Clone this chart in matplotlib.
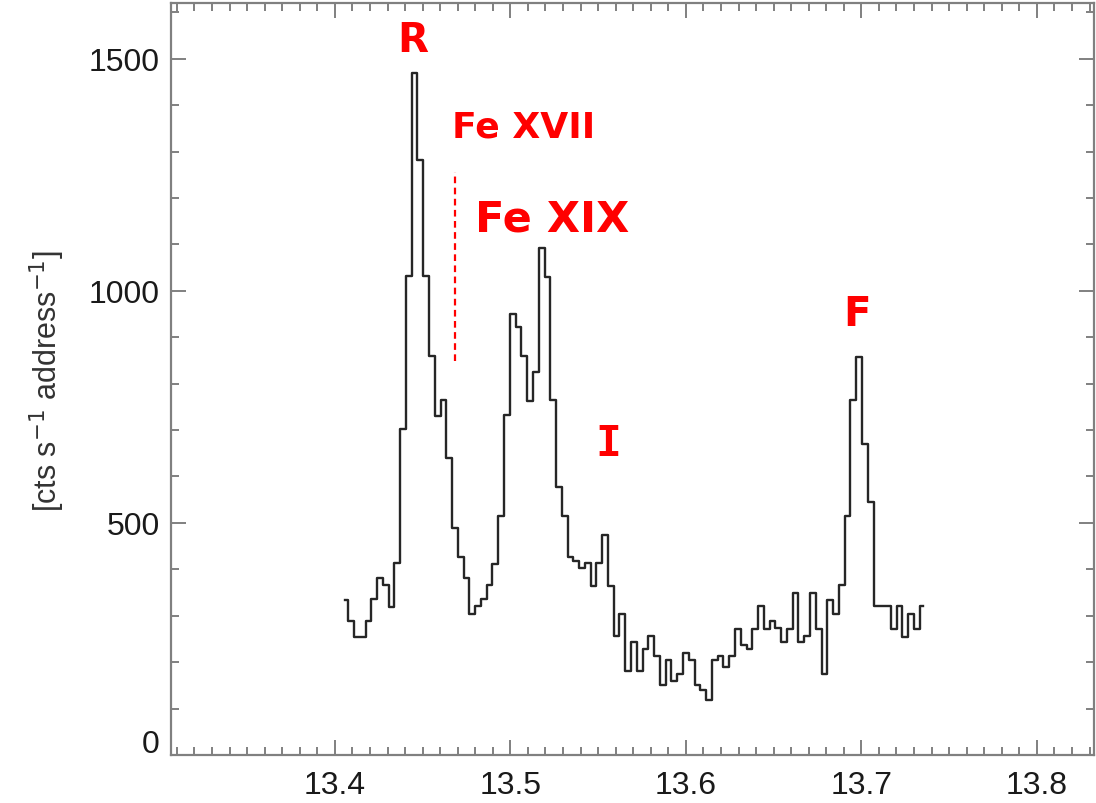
#!/usr/bin/env python3
"""Ne IX triplet region: step spectrum with R / I / F and Fe line labels."""
import matplotlib
matplotlib.use("Agg")
import matplotlib.pyplot as plt
from matplotlib.ticker import MultipleLocator, FormatStrFormatter, FuncFormatter

# bin centres [Angstrom]
wavelength = [
    13.4059, 13.4092, 13.4125, 13.4158, 13.4191, 13.4224, 13.4256, 13.4289, 13.4322, 13.4355,
    13.4388, 13.4421, 13.4454, 13.4487, 13.4520, 13.4553, 13.4586, 13.4618, 13.4651, 13.4684,
    13.4717, 13.4750, 13.4783, 13.4816, 13.4849, 13.4882, 13.4914, 13.4947, 13.4980, 13.5013,
    13.5046, 13.5079, 13.5112, 13.5145, 13.5178, 13.5211, 13.5243, 13.5276, 13.5309, 13.5342,
    13.5375, 13.5408, 13.5441, 13.5474, 13.5507, 13.5540, 13.5572, 13.5605, 13.5638, 13.5671,
    13.5704, 13.5737, 13.5770, 13.5803, 13.5836, 13.5869, 13.5901, 13.5934, 13.5967, 13.6000,
    13.6033, 13.6066, 13.6099, 13.6132, 13.6165, 13.6198, 13.6230, 13.6263, 13.6296, 13.6329,
    13.6362, 13.6395, 13.6428, 13.6461, 13.6494, 13.6527, 13.6559, 13.6592, 13.6625, 13.6658,
    13.6691, 13.6724, 13.6757, 13.6790, 13.6823, 13.6856, 13.6888, 13.6921, 13.6954, 13.6987,
    13.7020, 13.7053, 13.7086, 13.7119, 13.7152, 13.7185, 13.7217, 13.7250, 13.7283, 13.7316,
    13.7349,
]
# count rate per bin [cts s^-1 address^-1]
rate = [
    334, 288, 255, 255, 288, 335, 382, 367, 318, 413,
    702, 1031, 1469, 1281, 1031, 860, 731, 765, 639, 490,
    427, 382, 303, 320, 335, 366, 412, 515, 732, 950,
    921, 860, 763, 826, 1092, 1029, 764, 578, 515, 427,
    418, 403, 414, 364, 414, 475, 364, 256, 303, 181,
    244, 182, 228, 256, 213, 150, 204, 159, 175, 220,
    204, 150, 141, 118, 204, 213, 189, 213, 272, 238,
    228, 272, 320, 271, 289, 274, 243, 272, 350, 243,
    256, 350, 272, 174, 334, 303, 366, 514, 765, 858,
    670, 545, 320, 320, 320, 271, 320, 255, 304, 272,
    320,
]

# line labels
labels = ["R", "Fe XVII", "Fe XIX", "I", "F"]
label_x = [13.4444, 13.5077, 13.5236, 13.5556, 13.6974]
label_y = [1540, 1355, 1155, 672, 950]
label_size = [29, 26, 31, 31, 29]
# the "I" gets its bars from the mono face
label_font = ["DejaVu Sans", "DejaVu Sans", "DejaVu Sans", "DejaVu Sans Mono", "DejaVu Sans"]

# Fe XVII marker
fe17_x = 13.4684
fe17_y = (848, 1256)

AXIS_GREY = "#808080"
TICK_SIZE = 23


def style_axes(ax):
    ax.set_xlim(13.3066, 13.8325)
    ax.set_ylim(0, 1620)
    ax.xaxis.set_major_locator(MultipleLocator(0.1))
    ax.xaxis.set_minor_locator(MultipleLocator(0.01))
    ax.yaxis.set_major_locator(MultipleLocator(500))
    ax.yaxis.set_minor_locator(MultipleLocator(100))
    ax.xaxis.set_major_formatter(FormatStrFormatter("%.1f"))
    # "0" is drawn separately, a little above the axis
    ax.yaxis.set_major_formatter(FuncFormatter(lambda v, p: "" if v == 0 else f"{v:.0f}"))
    for sp in ax.spines.values():
        sp.set_color(AXIS_GREY)
        sp.set_linewidth(1.6)
    ax.tick_params(which="both", direction="in", top=True, right=True,
                   color=AXIS_GREY, width=1.4, labelsize=TICK_SIZE, labelcolor="#1a1a1a")
    ax.tick_params(which="major", length=11)
    ax.tick_params(which="minor", length=6)
    ax.tick_params(axis="x", pad=11)
    ax.tick_params(axis="y", pad=8)
    ax.annotate("0", xy=(0, 0), xycoords=("axes fraction", "data"),
                xytext=(-8, 8), textcoords="offset points", ha="right", va="center",
                fontsize=TICK_SIZE, color="#1a1a1a", annotation_clip=False)


def main():
    plt.rcParams["font.family"] = ["Liberation Sans", "DejaVu Sans"]
    fig = plt.figure(figsize=(10.96, 8.04), dpi=100)
    ax = fig.add_axes([0.1560, 0.0597, 0.8421, 0.9353])

    ax.step(wavelength, rate, where="mid", color="#262626", linewidth=1.7)
    ax.plot([fe17_x, fe17_x], fe17_y, color="red", linewidth=1.6,
            linestyle=(0, (3, 2)))

    for txt, x, y, s, fam in zip(labels, label_x, label_y, label_size, label_font):
        ax.text(x, y, txt, color="red", fontsize=s, fontweight="bold",
                family=fam, ha="center", va="center")

    style_axes(ax)
    fig.text(47 / 1096, 1 - 381 / 804, r"[cts s$^{-1}$ address$^{-1}$]",
             rotation=90, ha="center", va="center", fontsize=22, color="#333333")

    fig.savefig("out.png", dpi=100)


if __name__ == "__main__":
    main()
